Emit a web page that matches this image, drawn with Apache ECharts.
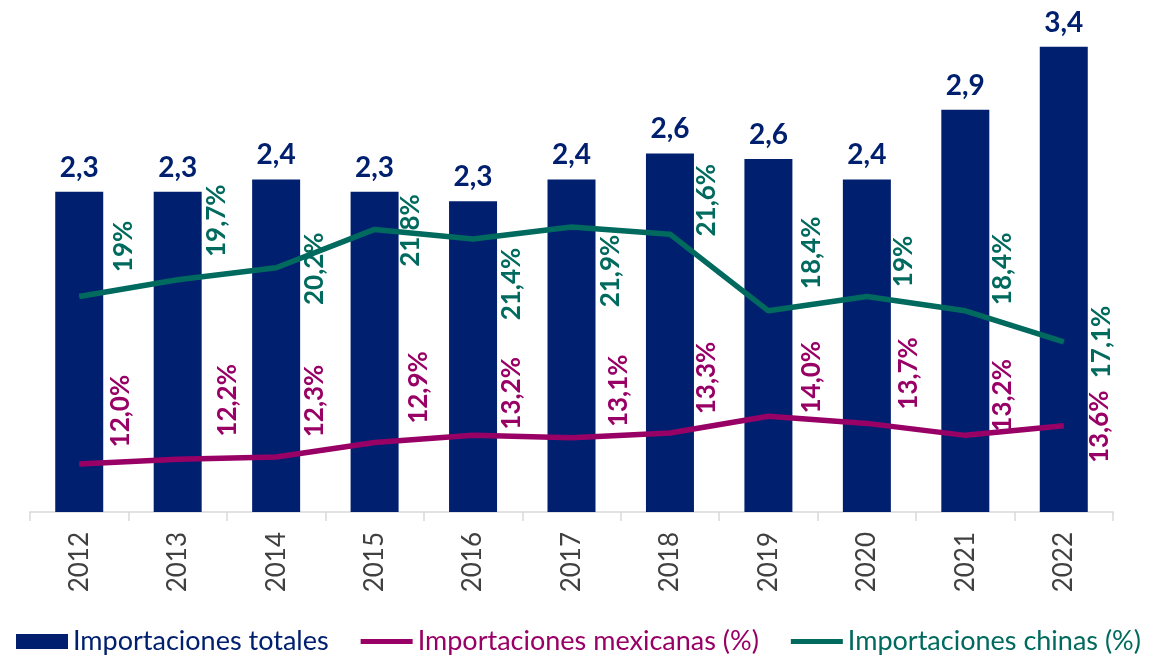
<!DOCTYPE html>
<html>
<head>
<meta charset="utf-8">
<script src="https://cdn.jsdelivr.net/npm/echarts@6/dist/echarts.min.js"></script>
<style>
  html, body { margin: 0; padding: 0; background: #fff; }
  #chart { width: 1156px; height: 656px; }
</style>
</head>
<body>
<div id="chart"></div>
<script>
var years = ['2012', '2013', '2014', '2015', '2016', '2017', '2018', '2019', '2020', '2021', '2022'];
var totales = [2.34, 2.34, 2.43, 2.34, 2.27, 2.43, 2.62, 2.58, 2.43, 2.94, 3.40];
var mexicanas = [12.0, 12.2, 12.3, 12.9, 13.2, 13.1, 13.3, 14.0, 13.7, 13.2, 13.6];
var chinas = [19, 19.7, 20.2, 21.8, 21.4, 21.9, 21.6, 18.4, 19, 18.4, 17.1];

// label shifts (screen px) from each point, as placed by hand in the original
var chinaShift = [[44, -50], [39, -59], [38, 1], [36, 1], [39, 45], [39, 44], [37, -34], [43, -58], [37, -35], [37, -42], [38, 0]];
var mexShift = [[41, -53], [50, -59], [38, -56], [44, -55], [39, -42], [47, -47], [37, -55], [43, -39], [42, -50], [37, -40], [36, 1]];

var navy = '#00206F';
var magenta = '#990066';
var teal = '#006A5E';
var font = 'Lato';

function comma(s) { return String(s).replace('.', ','); }

function lineData(values, shifts, fmt) {
    return values.map(function (v, i) {
        return {
            value: v,
            label: {
                position: [shifts[i][0] + 0.5, shifts[i][1] + 0.5],
                formatter: fmt(v)
            }
        };
    });
}

var chart = echarts.init(document.getElementById('chart'));

chart.setOption({
    animation: false,
    textStyle: { fontFamily: font },
    grid: {
        left: 30,
        right: 43,
        top: 33,
        bottom: 144
    },
    legend: {
        left: 11,
        top: 623,
        width: 1145,
        itemWidth: 52,
        itemHeight: 15,
        itemGap: 32,
        textStyle: { fontFamily: font, fontSize: 27 },
        data: [
            { name: 'Importaciones totales', icon: 'rect', textStyle: { color: navy } },
            { name: 'Importaciones mexicanas (%)', icon: 'path://M0 0H60V6H0Z', textStyle: { color: magenta } },
            { name: 'Importaciones chinas (%)', icon: 'path://M0 0H60V6H0Z', textStyle: { color: teal } }
        ]
    },
    xAxis: {
        type: 'category',
        data: years,
        axisLine: { lineStyle: { color: '#D9D9D9', width: 1.5 } },
        axisTick: { show: true, length: 9, lineStyle: { color: '#D9D9D9', width: 1.5 } },
        axisLabel: {
            rotate: 90,
            margin: 20,
            fontSize: 26,
            color: '#404040',
            fontFamily: font
        }
    },
    yAxis: [
        { type: 'value', min: 0, max: 3.5, show: false, splitLine: { show: false } },
        { type: 'value', min: 10, max: 30, show: false, splitLine: { show: false } }
    ],
    series: [
        {
            name: 'Importaciones totales',
            type: 'bar',
            barWidth: 48,
            itemStyle: { color: navy },
            label: {
                show: true,
                position: 'top',
                distance: 10,
                fontSize: 28,
                fontWeight: 'bold',
                color: navy,
                fontFamily: font,
                formatter: function (p) { return comma(p.value.toFixed(1)); }
            },
            emphasis: { disabled: true },
            data: totales
        },
        {
            name: 'Importaciones mexicanas (%)',
            type: 'line',
            yAxisIndex: 1,
            symbol: 'circle',
            symbolSize: 1,
            showSymbol: true,
            lineStyle: { color: magenta, width: 5.5 },
            itemStyle: { color: magenta },
            label: {
                show: true,
                rotate: 90,
                align: 'center',
                verticalAlign: 'middle',
                fontSize: 26,
                fontWeight: 'bold',
                color: magenta,
                fontFamily: font
            },
            emphasis: { disabled: true },
            data: lineData(mexicanas, mexShift, function (v) { return comma(v.toFixed(1)) + '%'; })
        },
        {
            name: 'Importaciones chinas (%)',
            type: 'line',
            yAxisIndex: 1,
            symbol: 'circle',
            symbolSize: 1,
            showSymbol: true,
            lineStyle: { color: teal, width: 5.5 },
            itemStyle: { color: teal },
            label: {
                show: true,
                rotate: 90,
                align: 'center',
                verticalAlign: 'middle',
                fontSize: 26,
                fontWeight: 'bold',
                color: teal,
                fontFamily: font
            },
            emphasis: { disabled: true },
            data: lineData(chinas, chinaShift, function (v) { return comma(v) + '%'; })
        }
    ]
});
</script>
</body>
</html>
